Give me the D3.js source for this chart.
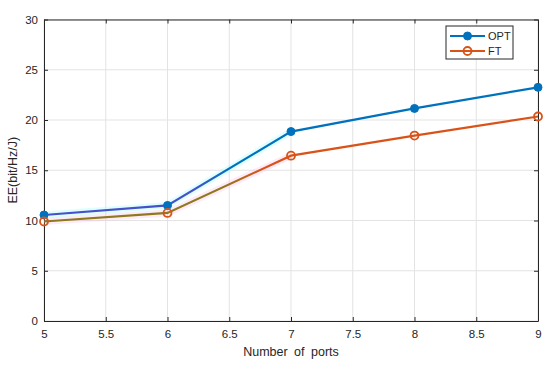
<!DOCTYPE html>
<html>
<head>
<meta charset="utf-8">
<script src="https://cdn.jsdelivr.net/npm/d3@7"></script>
<style>
  body { margin: 0; background: #fff; }
  text { font-family: "Liberation Sans", Arial, sans-serif; fill: #262626; }
</style>
</head>
<body>
<script>
"use strict";
const ports = [5, 6, 7, 8, 9];
const opt = [10.55, 11.5, 18.85, 21.15, 23.25];
const ft = [9.9, 10.75, 16.45, 18.45, 20.35];
const xTicks = [5, 5.5, 6, 6.5, 7, 7.5, 8, 8.5, 9];
const yTicks = [0, 5, 10, 15, 20, 25, 30];

const W = 550, H = 365;
const m = { left: 44, right: 12, top: 19.5, bottom: 44 };
const iw = W - m.left - m.right, ih = H - m.top - m.bottom;

let svg = d3.select("body").append("svg").attr("width", W).attr("height", H);
let x = d3.scaleLinear().domain([5, 9]).range([m.left, m.left + iw]);
let y = d3.scaleLinear().domain([0, 30]).range([m.top + ih, m.top]);

// grid
let grid = svg.append("g");
grid.selectAll(".gx").data(xTicks).enter().append("line")
    .attr("x1", d => x(d)).attr("x2", d => x(d))
    .attr("y1", m.top).attr("y2", m.top + ih)
    .attr("stroke", "#e3e3e3").attr("stroke-width", 1);
grid.selectAll(".gy").data(yTicks).enter().append("line")
    .attr("y1", d => y(d)).attr("y2", d => y(d))
    .attr("x1", m.left).attr("x2", m.left + iw)
    .attr("stroke", "#e3e3e3").attr("stroke-width", 1);

// axes with inward ticks, box
let fmt = d3.format("~g");
svg.append("g").attr("transform", `translate(0,${m.top + ih})`)
    .call(d3.axisBottom(x).tickValues(xTicks).tickFormat(fmt).tickSizeInner(-4).tickSizeOuter(0).tickPadding(9));
svg.append("g").attr("transform", `translate(0,${m.top})`)
    .call(d3.axisTop(x).tickValues(xTicks).tickFormat("").tickSizeInner(-4).tickSizeOuter(0));
svg.append("g").attr("transform", `translate(${m.left},0)`)
    .call(d3.axisLeft(y).tickValues(yTicks).tickFormat(fmt).tickSizeInner(-4).tickSizeOuter(0).tickPadding(6));
svg.append("g").attr("transform", `translate(${m.left + iw},0)`)
    .call(d3.axisRight(y).tickValues(yTicks).tickFormat("").tickSizeInner(-4).tickSizeOuter(0));
svg.selectAll(".domain, .tick line").attr("stroke", "#262626");
svg.selectAll(".tick text").attr("font-size", 11.5).attr("fill", "#262626")
    .attr("font-family", "'Liberation Sans', Arial, sans-serif");

// gradients emulating the colour shift of the original render
let defs = svg.append("defs");
function grad(id, c0, c1, stopAt) {
  let g = defs.append("linearGradient").attr("id", id)
      .attr("gradientUnits", "userSpaceOnUse")
      .attr("x1", m.left).attr("x2", m.left + iw).attr("y1", 0).attr("y2", 0);
  g.append("stop").attr("offset", 0).attr("stop-color", c0);
  g.append("stop").attr("offset", stopAt).attr("stop-color", c0);
  g.append("stop").attr("offset", stopAt + 0.08).attr("stop-color", c1);
  g.append("stop").attr("offset", 1).attr("stop-color", c1);
}
grad("gOpt", "#4650c8", "#0072BD", 0.3);
grad("gFt", "#8c7a1c", "#D95319", 0.36);

let line = d3.line().x((d, i) => x(ports[i])).y(d => y(d));

function series(vals, gid, color, filled, halo) {
  let g = svg.append("g");
  // faint halo on left segments
  g.append("path").datum(vals.slice(0, 3)).attr("d", line)
      .attr("fill", "none").attr("stroke", halo).attr("stroke-width", 7)
      .attr("stroke-opacity", 0.25);
  g.append("path").datum(vals).attr("d", line)
      .attr("fill", "none").attr("stroke", `url(#${gid})`).attr("stroke-width", 2.2);
  g.selectAll("circle").data(vals).enter().append("circle")
      .attr("cx", (d, i) => x(ports[i])).attr("cy", d => y(d)).attr("r", 4)
      .attr("fill", filled ? color : "none")
      .attr("stroke", color).attr("stroke-width", filled ? 1 : 1.8);
}
series(opt, "gOpt", "#0072BD", true, "#80ffff");
series(ft, "gFt", "#D95319", false, "#ffb0e0");

// legend
let lg = svg.append("g").attr("transform", "translate(446,26)");
lg.append("rect").attr("width", 67).attr("height", 33)
    .attr("fill", "#fff").attr("stroke", "#262626").attr("stroke-width", 1);
const legendItems = [["OPT", "#0072BD", true], ["FT", "#D95319", false]];
legendItems.forEach((it, i) => {
  let yy = 10 + i * 15;
  lg.append("line").attr("x1", 4).attr("x2", 39).attr("y1", yy).attr("y2", yy)
      .attr("stroke", it[1]).attr("stroke-width", 2.2);
  lg.append("circle").attr("cx", 21.5).attr("cy", yy).attr("r", 4)
      .attr("fill", it[2] ? it[1] : "none").attr("stroke", it[1])
      .attr("stroke-width", it[2] ? 1 : 1.8);
  lg.append("text").attr("x", 42).attr("y", yy + 4).attr("font-size", 11).text(it[0]);
});

// axis labels
svg.append("text").attr("x", m.left + iw / 2).attr("y", 356)
    .attr("text-anchor", "middle").attr("font-size", 12.5)
    .attr("word-spacing", 3).text("Number of ports");
svg.append("text").attr("transform", `translate(17,${m.top + ih / 2}) rotate(-90)`)
    .attr("text-anchor", "middle").attr("font-size", 12.5).text("EE(bit/Hz/J)");
</script>
</body>
</html>
